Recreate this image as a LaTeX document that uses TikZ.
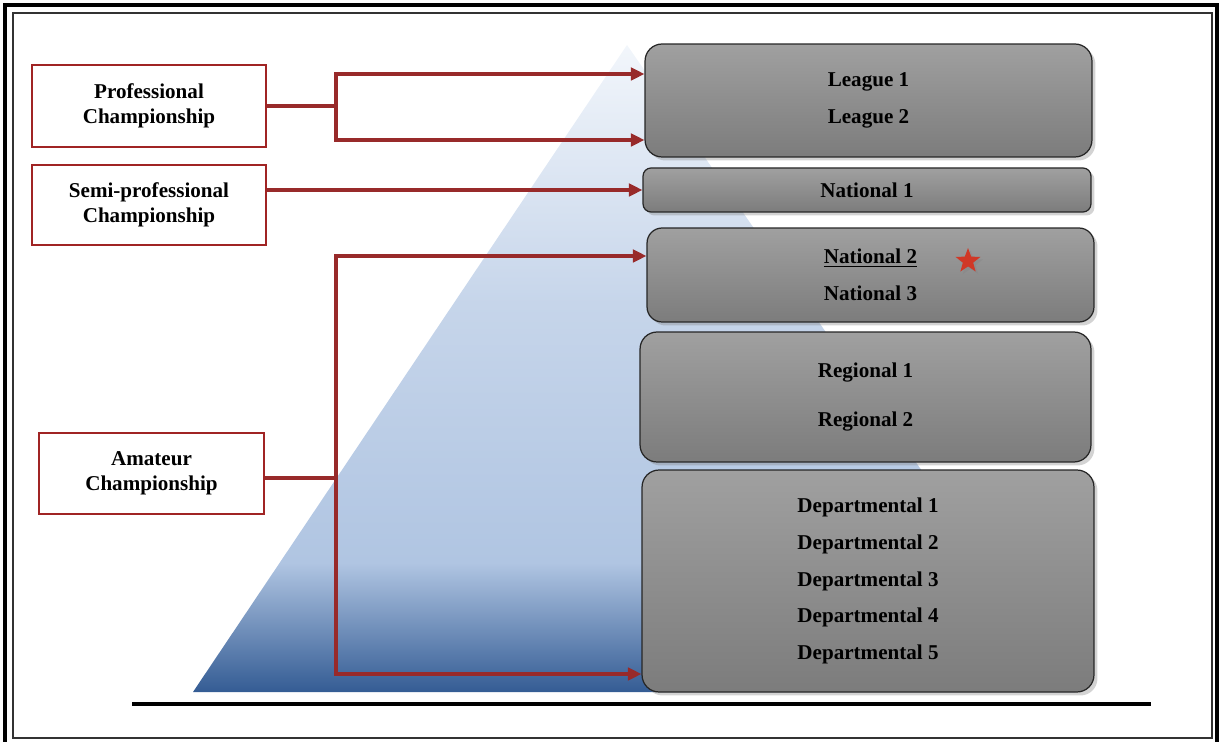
\documentclass[tikz,border=0pt]{standalone}
\usepackage{fontspec}
\setmainfont{Liberation Serif}
\usetikzlibrary{arrows.meta, shadows, shapes.geometric}

\definecolor{linkred}{RGB}{152,42,42}
\definecolor{boxred}{RGB}{160,36,36}
\definecolor{tiertop}{RGB}{160,160,160}
\definecolor{tierbot}{RGB}{124,124,124}
\definecolor{starred}{RGB}{208,56,38}
\definecolor{pyrbot}{RGB}{52,92,148}
\definecolor{pyrmid}{RGB}{176,197,226}
\definecolor{pyrup}{RGB}{198,213,234}
\definecolor{pyrtop}{RGB}{242,246,251}

\pgfdeclareverticalshading{pyramid}{100bp}{color(0bp)=(pyrbot); color(25bp)=(pyrbot); color(35bp)=(pyrmid); color(55bp)=(pyrup); color(75bp)=(pyrtop); color(100bp)=(pyrtop)}

\begin{document}
\begin{tikzpicture}[
    x=0.02cm, y=-0.02cm,
    >={Triangle[length=0.27cm, width=0.25cm]},
    tier/.style={draw=black!85, line width=0.7pt, top color=tiertop, bottom color=tierbot, rounded corners=0.34cm, align=center, font=\bfseries\fontsize{12}{21}\selectfont, drop shadow={shadow xshift=0.07cm, shadow yshift=-0.07cm, opacity=0.35}},
    champ/.style={draw=boxred, line width=1.1pt, fill=white, align=center, font=\bfseries\fontsize{12}{14.5}\selectfont},
    link/.style={draw=linkred, line width=1.8pt}
]
\useasboundingbox (0,0) rectangle (1219,742);

% -------------------------
% FRAME AND PYRAMID
% -------------------------
\draw[line width=2pt] (5,742) -- (5,5) -- (1217,5) -- (1217,742);
\draw[line width=0.6pt, black!80] (13,13) rectangle (1212,738);

\shade[shading=pyramid] (627,45) -- (1075,692) -- (193,692) -- cycle;
\draw[line width=2.3pt] (132,704) -- (1151,704);

% -------------------------
% LEVELS
% -------------------------
\node[tier, minimum width=8.94cm, minimum height=2.26cm] (league) at (868.5,100.5) {League 1\\League 2};
\node[tier, rounded corners=0.16cm, minimum width=8.96cm, minimum height=0.88cm] (nat1) at (867,190) {National 1};
\node[tier, rounded corners=0.3cm, minimum width=8.94cm, minimum height=1.88cm] (nat23) at (870.5,275) {\underline{National 2}\\National 3};
\node[tier, minimum width=9.02cm, minimum height=2.6cm] (reg) at (865.5,397) {Regional 1\\[6.8pt]Regional 2};
\node[tier, minimum width=9.04cm, minimum height=4.44cm] (dep) at (868,581) {Departmental 1\\Departmental 2\\Departmental 3\\Departmental 4\\Departmental 5};

\node[star, star points=5, star point ratio=2.4, fill=starred, inner sep=0pt, minimum size=0.52cm, drop shadow={shadow xshift=0.05cm, shadow yshift=-0.05cm, opacity=0.3}] (star) at (968,261) {};

% -------------------------
% CHAMPIONSHIPS
% -------------------------
\node[champ, minimum width=4.68cm, minimum height=1.64cm] (pro) at (149,106) {Professional\\Championship};
\node[champ, minimum width=4.68cm, minimum height=1.6cm] (semi) at (149,205) {Semi-professional\\Championship};
\node[champ, minimum width=4.5cm, minimum height=1.62cm] (amat) at (151.5,473.5) {Amateur\\Championship};

% -------------------------
% LINKS
% -------------------------
\coordinate (pj) at (336,106);
\coordinate (aj) at (336,478);

\draw[link] (pro.east) -- (pj);
\draw[link, ->] (pj) |- (league.west |- 0,74);
\draw[link, ->] (pj) |- (league.west |- 0,140);

\draw[link, ->] (semi.east |- nat1.west) -- (nat1.west);

\draw[link] (amat.east |- aj) -- (aj);
\draw[link, ->] (aj) |- (nat23.west |- 0,256);
\draw[link, ->] (aj) |- (dep.west |- 0,674);

\end{tikzpicture}
\end{document}
